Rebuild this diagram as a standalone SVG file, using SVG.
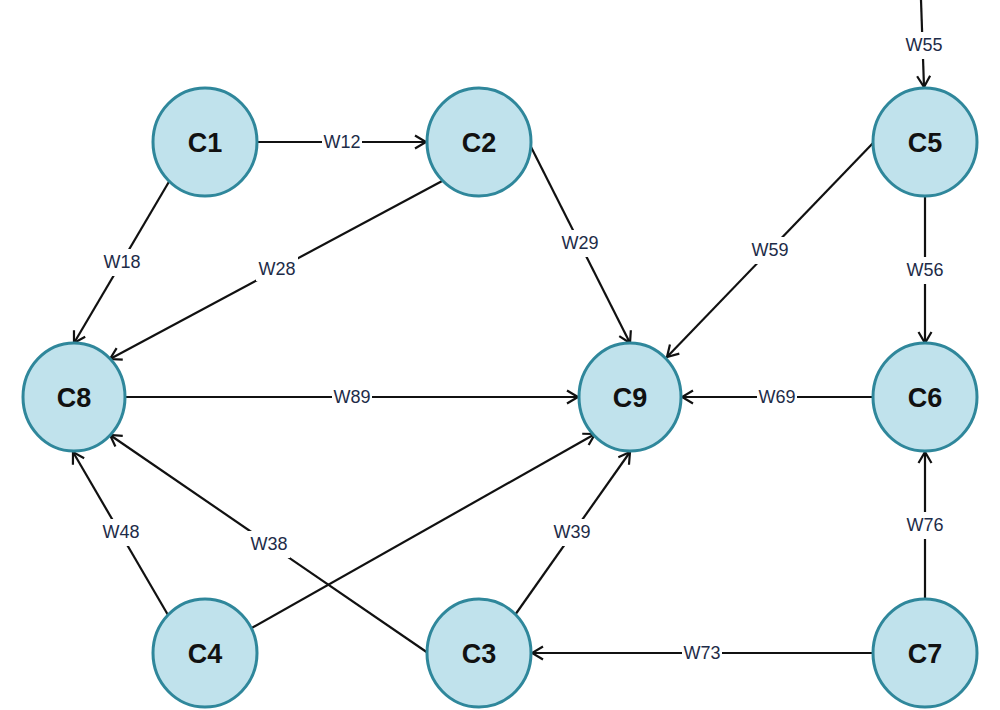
<svg xmlns="http://www.w3.org/2000/svg" width="1000" height="710" viewBox="0 0 1000 710">
<style>
.node ellipse{fill:#c0e2ec;stroke:#2f879b;stroke-width:3}
.node text{font-family:"Liberation Sans",Arial,sans-serif;font-size:27px;font-weight:bold;fill:#111;text-anchor:middle;dominant-baseline:central}
.edge line{stroke:#111;stroke-width:2.2;fill:none}
.arr{marker-end:url(#arrow)}
.lbl rect{fill:#fff}
.lbl text{font-family:"Liberation Sans",Arial,sans-serif;font-size:18px;fill:#1d2c48;text-anchor:middle;dominant-baseline:central}
</style>
<defs>
<marker id="arrow" markerUnits="userSpaceOnUse" markerWidth="16" markerHeight="16" viewBox="-13 -8 15 16" refX="0" refY="0" orient="auto">
<path d="M-11,-6.5 L0,0 L-11,6.5" fill="none" stroke="#111" stroke-width="2.2"/>
</marker>
</defs>
<rect width="1000" height="710" fill="#fff"/>
<g id="connectors">
<g class="edge"><line class="arr" x1="257" y1="142" x2="426" y2="142"/><g class="lbl"><rect x="322" y="130" width="40" height="24"/><text x="342" y="142">W12</text></g></g>
<g class="edge"><line class="arr" x1="170" y1="180" x2="74" y2="343"/><g class="lbl"><rect x="101" y="249" width="42" height="27"/><text x="122" y="262">W18</text></g></g>
<g class="edge"><line class="arr" x1="444" y1="180" x2="110" y2="359"/><g class="lbl"><rect x="256" y="254" width="42" height="27"/><text x="277" y="269">W28</text></g></g>
<g class="edge"><line class="arr" x1="530" y1="145" x2="630" y2="343"/><g class="lbl"><rect x="559" y="230" width="42" height="27"/><text x="580" y="243">W29</text></g></g>
<g class="edge"><line class="arr" x1="874" y1="142" x2="667" y2="357"/><g class="lbl"><rect x="749" y="237" width="42" height="27"/><text x="770" y="250">W59</text></g></g>
<g class="edge"><line class="arr" x1="921" y1="0" x2="924" y2="87"/><g class="lbl"><rect x="903" y="32" width="42" height="27"/><text x="924" y="45">W55</text></g></g>
<g class="edge"><line class="arr" x1="925" y1="197" x2="925" y2="343"/><g class="lbl"><rect x="904" y="257" width="42" height="27"/><text x="925" y="270">W56</text></g></g>
<g class="edge"><line class="arr" x1="125" y1="397" x2="578" y2="397"/><g class="lbl"><rect x="332" y="385" width="40" height="24"/><text x="352" y="397">W89</text></g></g>
<g class="edge"><line class="arr" x1="873" y1="397" x2="682" y2="397"/><g class="lbl"><rect x="757" y="385" width="40" height="24"/><text x="777" y="397">W69</text></g></g>
<g class="edge"><line class="arr" x1="168" y1="615" x2="73" y2="452"/><g class="lbl"><rect x="100" y="519" width="42" height="27"/><text x="121" y="532">W48</text></g></g>
<g class="edge"><line class="arr" x1="428" y1="653" x2="110" y2="435"/><g class="lbl"><rect x="248" y="531" width="42" height="27"/><text x="269" y="544">W38</text></g></g>
<g class="edge"><line class="arr" x1="250" y1="629" x2="595" y2="434"/></g>
<g class="edge"><line class="arr" x1="515" y1="615" x2="630" y2="452"/><g class="lbl"><rect x="551" y="519" width="42" height="27"/><text x="572" y="532">W39</text></g></g>
<g class="edge"><line class="arr" x1="873" y1="653" x2="532" y2="653"/><g class="lbl"><rect x="682" y="641" width="40" height="24"/><text x="702" y="653">W73</text></g></g>
<g class="edge"><line class="arr" x1="925" y1="600" x2="925" y2="452"/><g class="lbl"><rect x="904" y="512" width="42" height="27"/><text x="925" y="525">W76</text></g></g>
</g>
<g id="C1" class="node"><ellipse cx="205" cy="142" rx="52" ry="54"/><text x="205" y="143">C1</text></g>
<g id="C2" class="node"><ellipse cx="479" cy="142" rx="52" ry="54"/><text x="479" y="143">C2</text></g>
<g id="C5" class="node"><ellipse cx="925" cy="142" rx="52" ry="54"/><text x="925" y="143">C5</text></g>
<g id="C8" class="node"><ellipse cx="74" cy="397" rx="51" ry="54"/><text x="74" y="398">C8</text></g>
<g id="C9" class="node"><ellipse cx="630" cy="397" rx="51" ry="54"/><text x="630" y="398">C9</text></g>
<g id="C6" class="node"><ellipse cx="925" cy="397" rx="52" ry="54"/><text x="925" y="398">C6</text></g>
<g id="C4" class="node"><ellipse cx="205" cy="653" rx="52" ry="54"/><text x="205" y="654">C4</text></g>
<g id="C3" class="node"><ellipse cx="479" cy="653" rx="52" ry="54"/><text x="479" y="654">C3</text></g>
<g id="C7" class="node"><ellipse cx="925" cy="653" rx="52" ry="54"/><text x="925" y="654">C7</text></g>
</svg>
